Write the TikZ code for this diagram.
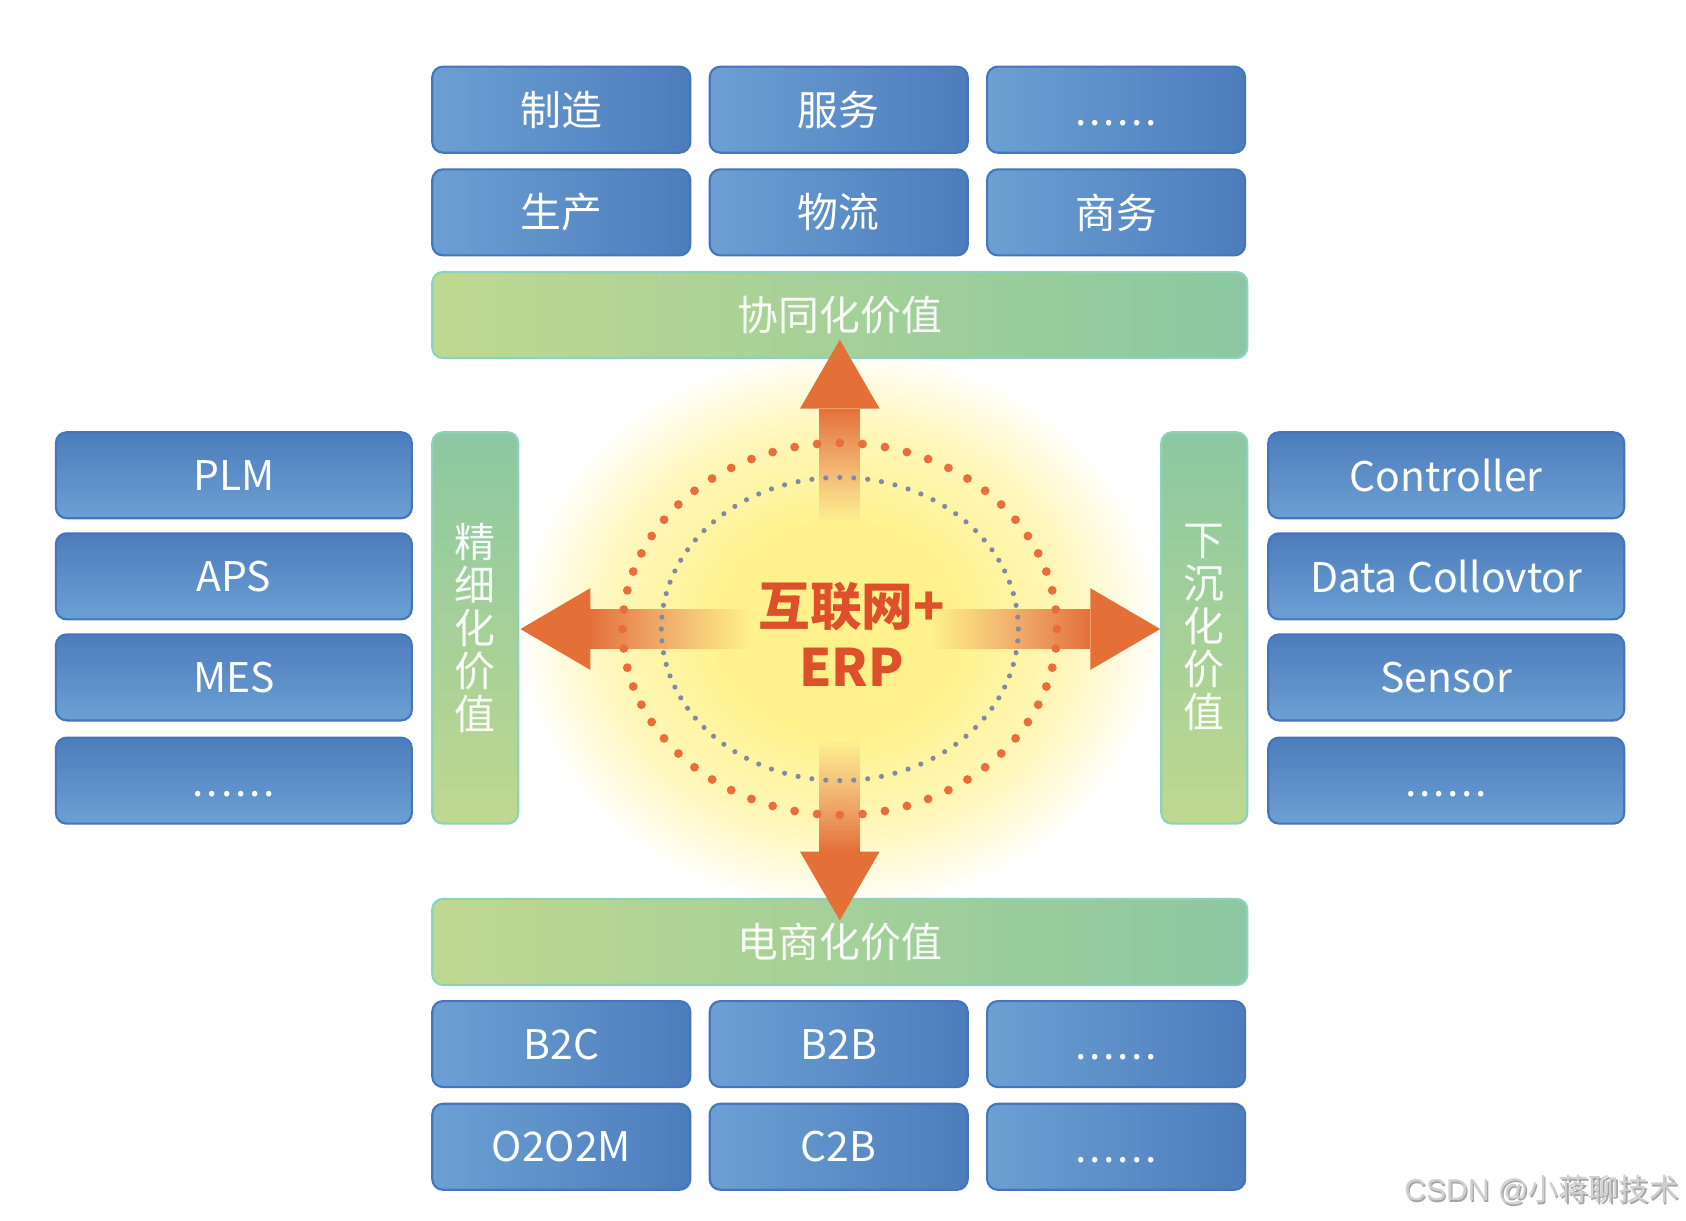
\documentclass[tikz,border=0pt]{standalone}
\usepackage{fontspec}
\setmainfont{Noto Sans CJK SC}
\newfontfamily\wmfont{Liberation Sans}
\usetikzlibrary{fadings}
\definecolor{blueL}{RGB}{108,160,211}
\definecolor{blueD}{RGB}{77,124,188}
\definecolor{blueE}{RGB}{66,118,190}
\definecolor{greenY}{RGB}{191,216,144}
\definecolor{greenT}{RGB}{139,200,161}
\definecolor{greenE}{RGB}{140,210,190}
\definecolor{arrowC}{RGB}{228,112,56}
\definecolor{dotO}{RGB}{233,110,60}
\definecolor{dotG}{RGB}{128,138,165}
\definecolor{ctext}{RGB}{222,80,42}
\definecolor{glowA}{RGB}{255,242,140}
\definecolor{glowB}{RGB}{255,247,190}
\definecolor{wmC}{RGB}{208,208,208}
\definecolor{wmS}{RGB}{165,165,165}
\pgfdeclareradialshading{glowsh}{\pgfpoint{0bp}{0bp}}{color(0bp)=(glowA); color(9bp)=(glowA); color(18bp)=(glowB); color(24.5bp)=(white); color(50bp)=(white)}
\tikzfading[name=shaftfade, top color=transparent!0, middle color=transparent!30, bottom color=transparent!100]
\newcommand\sixdots{\vphantom{制}.\kern1.3pt.\kern1.3pt.\kern1.3pt.\kern1.3pt.\kern1.3pt.}
\begin{document}
\begin{tikzpicture}[x=0.5pt,y=-0.5pt,
  box/.style={draw=blueE, line width=1pt, rounded corners=5pt, text=white, font=\fontsize{19}{22}\selectfont, inner sep=0pt},
  hbox/.style={box, left color=blueL, right color=blueD, minimum width=120pt, minimum height=40pt},
  vbox/.style={box, top color=blueD, bottom color=blueL, minimum width=165.5pt, minimum height=40pt},
  gbar/.style={draw=greenE, line width=1pt, rounded corners=5pt, text=white, text opacity=0.92, font=\fontsize{19}{20}\selectfont, inner sep=0pt},
  hbar/.style={gbar, left color=greenY, right color=greenT, minimum width=379pt, minimum height=40pt},
  vbar/.style={gbar, top color=greenT, bottom color=greenY, minimum width=40pt, minimum height=182pt, align=center},
  shaft/.style={fill=arrowC, path fading=shaftfade},
  head/.style={fill=arrowC}]
\useasboundingbox (0,0) rectangle (1568,1135);
\fill[white] (0,0) rectangle (1568,1135);
\coordinate (c) at (781,585);
% glow
\shade[shading=glowsh] (c) ellipse [x radius=305, y radius=268];
% top boxes
\node[hbox] (t11) at (522,102) {制造};
\node[hbox] (t12) at (780,102) {服务};
\node[hbox] (t13) at (1038,102) {\sixdots};
\node[hbox] (t21) at (522,197.5) {生产};
\node[hbox] (t22) at (780,197.5) {物流};
\node[hbox] (t23) at (1038,197.5) {商务};
\node[hbar] (gtop) at (781,293) {协同化价值};
% left
\node[vbox] (l1) at (217.5,442) {PLM};
\node[vbox] (l2) at (217.5,536) {APS};
\node[vbox] (l3) at (217.5,630) {MES};
\node[vbox] (l4) at (217.5,726) {\sixdots};
\node[vbar] (gleft) at (442,584) {精\\细\\化\\价\\值};
% right
\node[vbar] (gright) at (1120,584) {下\\沉\\化\\价\\值};
\node[vbox] (r1) at (1345,442) {Controller};
\node[vbox] (r2) at (1345,536) {Data Collovtor};
\node[vbox] (r3) at (1345,630) {Sensor};
\node[vbox] (r4) at (1345,726) {\sixdots};
% bottom
\node[hbar] (gbot) at (781,876) {电商化价值};
\node[hbox] (b11) at (522,971) {B2C};
\node[hbox] (b12) at (780,971) {B2B};
\node[hbox] (b13) at (1038,971) {\sixdots};
\node[hbox] (b21) at (522,1066.5) {O2O2M};
\node[hbox] (b22) at (780,1066.5) {C2B};
\node[hbox] (b23) at (1038,1066.5) {\sixdots};
% arrow shafts
\fill[shaft] (762,380) rectangle (800,486);
\fill[shaft, fading angle=180] (762,688) rectangle (800,792);
\fill[shaft, fading angle=90] (549,566) rectangle (697,604);
\fill[shaft, fading angle=-90] (866,566) rectangle (1014,604);
% dotted rings
\foreach \a in {0,6,...,354}
  \fill[dotO] ({781+202*cos(\a)},{585+173*sin(\a)}) circle (4.1);
\foreach \a in {0,4.5,...,355.5}
  \fill[dotG] ({781+166*cos(\a)},{585+141*sin(\a)}) circle (2.4);
% arrow heads
\fill[head] (744,380) -- (781,316) -- (818,380) -- cycle;
\fill[head] (744,792) -- (781,856) -- (818,792) -- cycle;
\fill[head] (549,547) -- (484,585) -- (549,623) -- cycle;
\fill[head] (1014,547) -- (1079,585) -- (1014,623) -- cycle;
% center text
\node[text=ctext, font=\fontsize{24}{28.5}\selectfont\bfseries, align=center, inner sep=0pt] (core) at (792,590) {互联网+\\ERP};
% watermark
\node[anchor=east, text=wmS, inner sep=0pt, font=\fontsize{14}{16}\selectfont] (wmsh) at (1563.2,1108.2) {{\wmfont CSDN @}小蒋聊技术};
\node[anchor=east, text=wmC, inner sep=0pt, font=\fontsize{14}{16}\selectfont] (wm) at (1562,1107) {{\wmfont CSDN @}小蒋聊技术};
\end{tikzpicture}
\end{document}
